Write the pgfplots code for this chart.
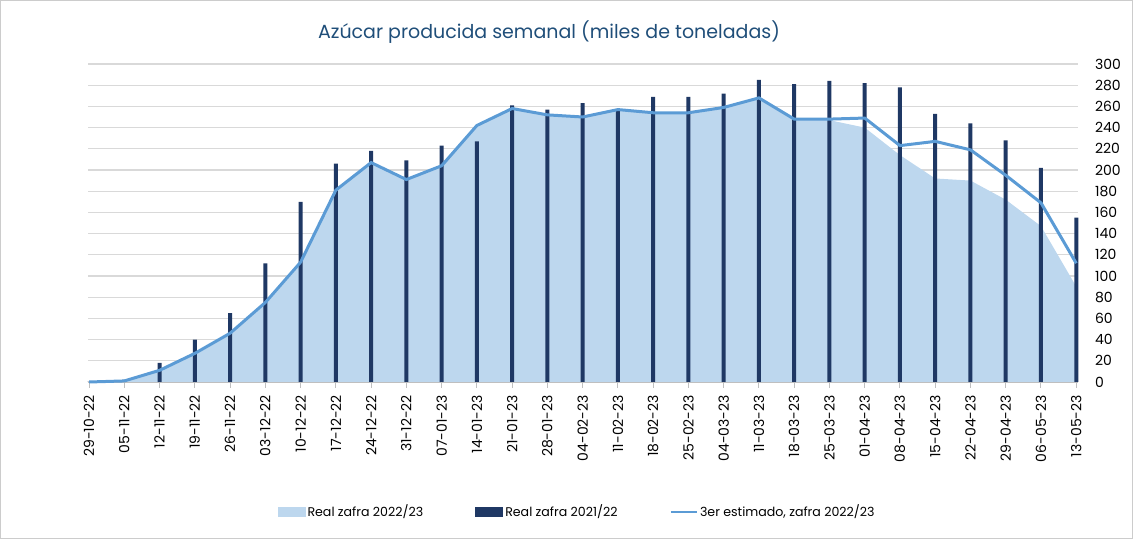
\documentclass[border=0pt]{standalone}
\usepackage{fontspec}
\setmainfont{Poppins}
\usepackage{pgfplots}
\usepackage{pgfplotstable}
\pgfplotsset{compat=1.18}
\definecolor{areablue}{HTML}{BDD7EE}
\definecolor{navy}{HTML}{1F3864}
\definecolor{lineblue}{HTML}{5B9BD5}
\definecolor{titleblue}{HTML}{1F4E79}
\pgfplotstableread{
x real22 real21 est
0 0 0 0
1 1 2 1
2 11 18 11
3 27 40 27
4 46 65 46
5 75 112 75
6 113 170 113
7 181 206 181
8 207 218 207
9 191 209 191
10 204 223 204
11 242 227 242
12 258 261 258
13 252 257 252
14 250 263 250
15 257 256 257
16 254 269 254
17 254 269 254
18 259 272 259
19 268 285 268
20 248 281 248
21 247 284 248
22 240 282 249
23 214 278 223
24 192 253 227
25 190 244 219
26 172 228 195
27 147 202 169
28 90 155 112
}\datatable
\begin{document}
\begin{tikzpicture}
\useasboundingbox (0,0) rectangle (566.5pt,269.5pt);
\draw[black!20, line width=0.5pt] (0.25pt,0.25pt) rectangle (566.25pt,269.25pt);
\node[font=\fontsize{9.5}{11}\selectfont, text=titleblue] at (274.5pt,253.5pt) {Azúcar producida semanal (miles de toneladas)};
\begin{axis}[
  at={(44pt,78.5pt)}, anchor=south west,
  scale only axis, width=495pt, height=159pt,
  xmin=-0.03, xmax=28.05, ymin=0, ymax=300,
  axis x line*=bottom, axis y line*=right,
  x axis line style={draw=black!25, -},
  y axis line style={draw=none},
  ytick={0,20,...,300},
  ymajorgrids, grid style={black!15, line width=0.6pt},
  ytick style={draw=none},
  xtick={0,...,28},
  xticklabels={29-10-22,05-11-22,12-11-22,19-11-22,26-11-22,03-12-22,10-12-22,17-12-22,24-12-22,31-12-22,07-01-23,14-01-23,21-01-23,28-01-23,04-02-23,11-02-23,18-02-23,25-02-23,04-03-23,11-03-23,18-03-23,25-03-23,01-04-23,08-04-23,15-04-23,22-04-23,29-04-23,06-05-23,13-05-23},
  xtick style={draw=black!25, line width=0.5pt},
  tick align=outside, major tick length=3pt,
  xticklabel style={rotate=90, anchor=east, font=\fontsize{7}{8}\selectfont, text=black},
  yticklabel style={font=\fontsize{7}{8}\selectfont, text=black, anchor=west, xshift=2pt},
  /pgf/number format/assume math mode=true,
  legend columns=3,
  legend style={draw=none, at={(0.494,-0.409)}, anchor=center, font=\fontsize{6.3}{8}\selectfont,
    /tikz/every even column/.append style={column sep=25pt},
    nodes={inner xsep=1pt}},
  clip=false,
]
\addplot[fill=areablue, draw=none,
  legend image code/.code={\fill[areablue] (0pt,-2.5pt) rectangle (14pt,2.5pt);}]
  table[x=x, y=real22] {\datatable} \closedcycle;
\addlegendentry{Real zafra 2022/23}
\addplot[ybar, bar width=2pt, bar shift=0pt, fill=navy, draw=none,
  legend image code/.code={\fill[navy] (0pt,-2.5pt) rectangle (14pt,2.5pt);}]
  table[x=x, y=real21] {\datatable};
\addlegendentry{Real zafra 2021/22}
\addplot[lineblue, line width=1.5pt, mark=none,
  legend image code/.code={\draw[lineblue, line width=1.2pt] (0pt,0pt) -- (13pt,0pt);}]
  table[x=x, y=est] {\datatable};
\addlegendentry{3er estimado, zafra 2022/23}
\end{axis}
\end{tikzpicture}
\end{document}
